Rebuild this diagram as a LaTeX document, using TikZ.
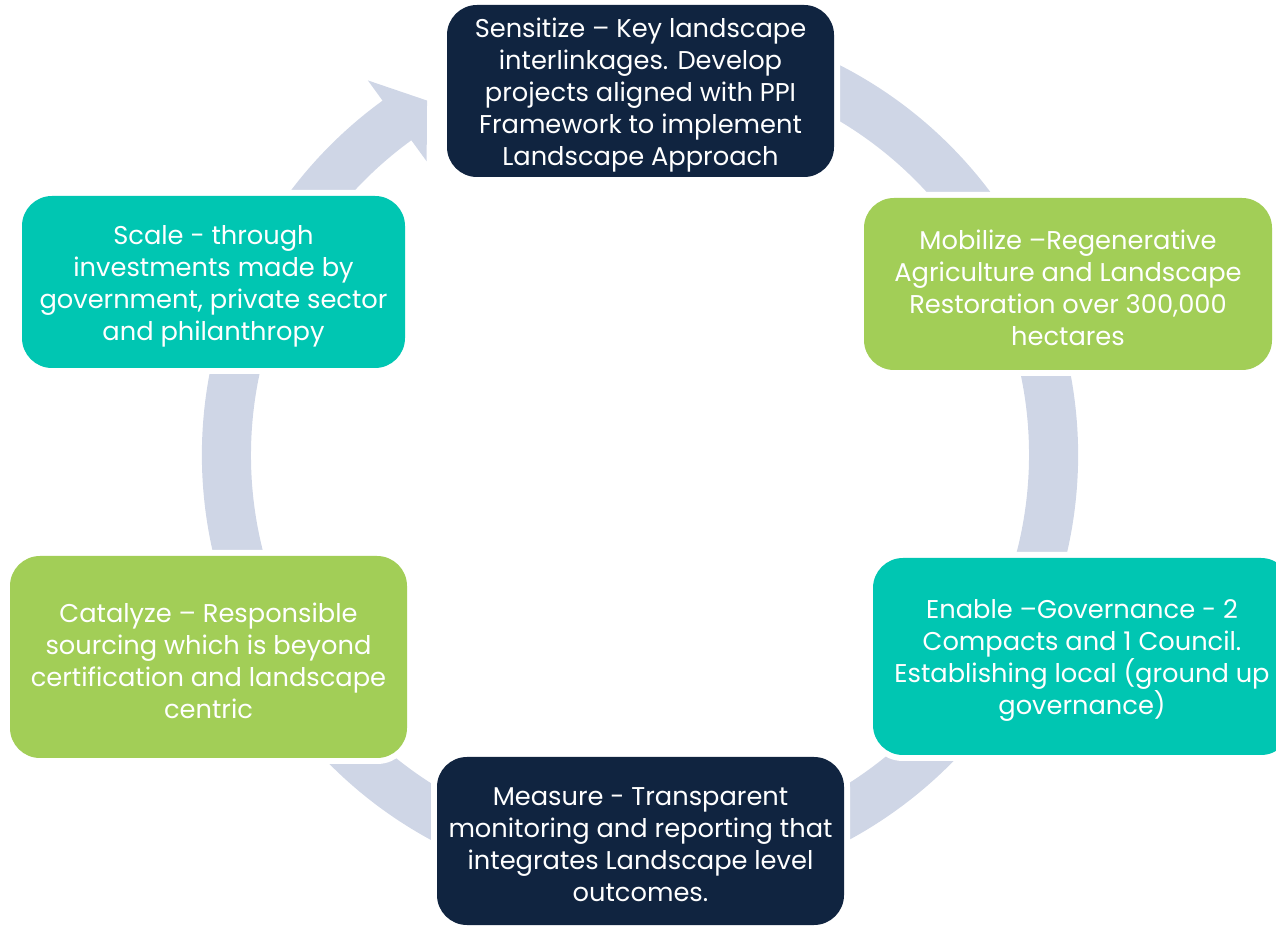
\documentclass[tikz,border=0pt]{standalone}
\usepackage{fontspec}
\setmainfont{Poppins}
\usetikzlibrary{calc}
\definecolor{navy}{RGB}{16,36,64}
\definecolor{leaf}{RGB}{162,206,87}
\definecolor{teal}{RGB}{0,198,178}
\definecolor{ringc}{RGB}{207,214,230}
\tikzset{
  box/.style={rounded corners=30pt, inner sep=0pt,
    preaction={draw=white, line width=12pt}},
  boxtext/.style={inner sep=0pt, text=white, align=center,
    font=\fontsize{25.7}{32}\selectfont, yshift=-4pt},
  ringfill/.style={fill=ringc}
}
\begin{document}
\begin{tikzpicture}[x=1pt,y=1pt]
\useasboundingbox (0,0) rectangle (1276,926);
\coordinate (c) at (640,471);
% ring with arrowhead
\fill[ringfill] ($(c)+(70:438pt)$) arc[start angle=70, end angle=-234, radius=438pt]
  -- ($(c)+(-234:463pt)$) -- ($(c)+(-239:413.5pt)$) -- ($(c)+(-234:363pt)$)
  -- ($(c)+(-234:389pt)$) arc[start angle=-234, end angle=70, radius=389pt] -- cycle;
% boxes
\node[box, fill=navy, minimum width=387pt, minimum height=172pt] (sens) at (640.5,835) {};
\node[boxtext] (sens-t) at (sens.center)
  {Sensitize – Key landscape\\interlinkages. Develop\\projects aligned with PPI\\Framework to implement\\Landscape Approach};
\node[box, fill=leaf, minimum width=408pt, minimum height=172pt] (mob) at (1068,642) {};
\node[boxtext] (mob-t) at (mob.center)
  {Mobilize –Regenerative\\Agriculture and Landscape\\Restoration over 300,000\\hectares};
\node[box, fill=teal, minimum width=418pt, minimum height=197pt] (enab) at (1082,269.5) {};
\node[boxtext] (enab-t) at (enab.center)
  {Enable –Governance - 2\\Compacts and 1 Council.\\Establishing local (ground up\\governance)};
\node[box, fill=navy, minimum width=407pt, minimum height=168pt] (meas) at (640.5,85) {};
\node[boxtext] (meas-t) at (meas.center)
  {Measure - Transparent\\monitoring and reporting that\\integrates Landscape level\\outcomes.};
\node[box, fill=leaf, minimum width=397pt, minimum height=202pt] (cata) at (208.5,269) {};
\node[boxtext] (cata-t) at (cata.center)
  {Catalyze – Responsible\\sourcing which is beyond\\certification and landscape\\centric};
\node[box, fill=teal, minimum width=383pt, minimum height=172pt] (scal) at (213.5,644) {};
\node[boxtext] (scal-t) at (scal.center)
  {Scale - through\\investments made by\\government, private sector\\and philanthropy};
\end{tikzpicture}
\end{document}
